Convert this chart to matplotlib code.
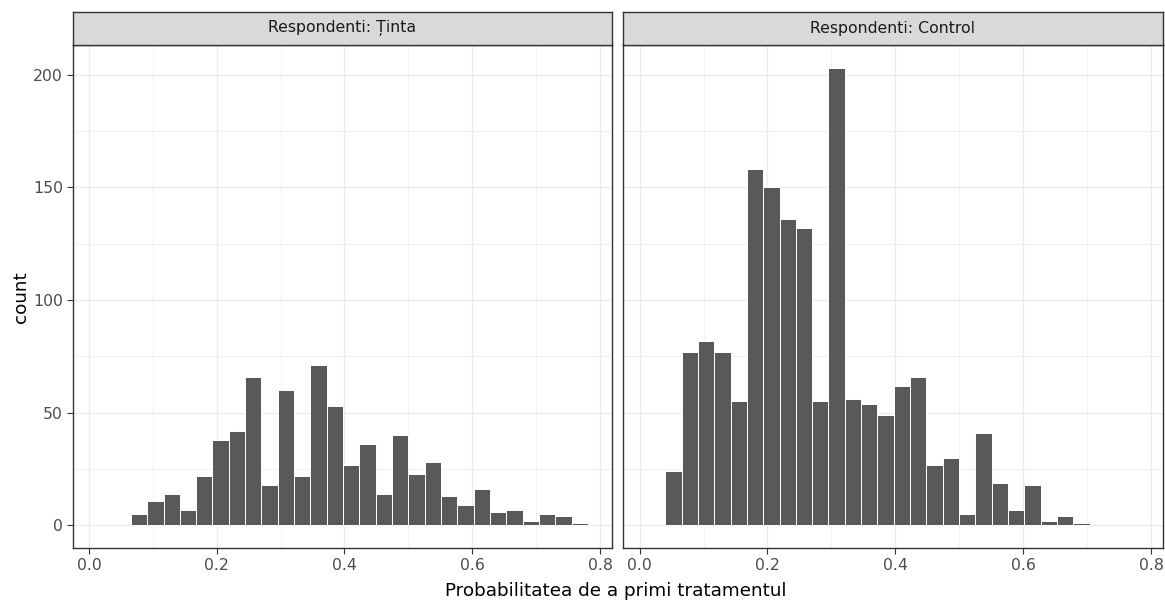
import numpy as np
import matplotlib
matplotlib.use("Agg")
import matplotlib.pyplot as plt

plt.rcParams['font.family'] = ['DejaVu Sans']

# histogram bins shared by both panels
bin_start = 0.0400
bin_width = 0.02555

# counts per bin, left panel starts at bin 1, right panel at bin 0
tinta_first_bin = 1
tinta_counts = [5, 11, 14, 7, 22, 38, 42, 66, 18, 60, 22, 71, 53, 27,
                36, 14, 40, 23, 28, 13, 9, 16, 6, 7, 2, 5, 4, 1]
control_first_bin = 0
control_counts = [24, 77, 82, 77, 55, 158, 150, 136, 132, 55, 203, 56, 54,
                  49, 62, 66, 27, 30, 5, 41, 19, 7, 18, 2, 4, 1]

panels = ["Respondenti: Ținta", "Respondenti: Control"]
x_ticks = [0.0, 0.2, 0.4, 0.6, 0.8]
y_ticks = [0, 50, 100, 150, 200]

W, H = 1165, 601
fig = plt.figure(figsize=(W / 100, H / 100), dpi=100)

grey20 = '#333333'
grey30 = '#4D4D4D'
grid_col = '#EBEBEB'

def px_axes(x0, y_top, x1, y_bot):
    return fig.add_axes([x0 / W, (H - y_bot) / H, (x1 - x0) / W, (y_bot - y_top) / H])

boxes = [(72.7, 611.7), (623.3, 1162.7)]
data = [(tinta_first_bin, tinta_counts), (control_first_bin, control_counts)]

for i, ((x0, x1), (first, counts), title) in enumerate(zip(boxes, data, panels)):
    ax = px_axes(x0, 45, x1, 548.3)
    lefts = bin_start + bin_width * (first + np.arange(len(counts)))
    ax.bar(lefts, counts, width=bin_width, align='edge', color='#595959',
           edgecolor='white', linewidth=0.7, zorder=3)
    ax.set_xlim(-0.0255, 0.8183)
    ax.set_ylim(-10.15, 213.15)
    ax.set_xticks(x_ticks)
    ax.set_xticks([0.1, 0.3, 0.5, 0.7], minor=True)
    ax.set_yticks(y_ticks)
    ax.set_yticks([25, 75, 125, 175], minor=True)
    ax.grid(True, which='major', color=grid_col, linewidth=1.0, zorder=0)
    ax.grid(True, which='minor', color=grid_col, linewidth=0.5, zorder=0)
    ax.set_xticklabels([f"{t:.1f}" for t in x_ticks])
    ax.tick_params(which='minor', length=0)
    ax.tick_params(which='major', length=4, width=0.8, color=grey20,
                   labelcolor=grey30, labelsize=11.3, pad=3)
    for s in ax.spines.values():
        s.set_color(grey20)
        s.set_linewidth(1.0)
    if i == 0:
        ax.set_ylabel("count", fontsize=13.2, color='black', labelpad=2)
    else:
        ax.tick_params(axis='y', left=False, labelleft=False)

    # facet strip
    st = px_axes(x0, 11.7, x1, 45)
    st.set_facecolor('#D9D9D9')
    st.set_xticks([])
    st.set_yticks([])
    for s in st.spines.values():
        s.set_color(grey20)
        s.set_linewidth(1.0)
    st.text(0.5, 0.5, title, ha='center', va='center', fontsize=11.3,
            color='#1A1A1A', transform=st.transAxes)

fig.text(616 / W, 1 - 591 / H, "Probabilitatea de a primi tratamentul",
         ha='center', va='center', fontsize=13.2, color='black')

fig.savefig("out.png", dpi=100, facecolor='white')
